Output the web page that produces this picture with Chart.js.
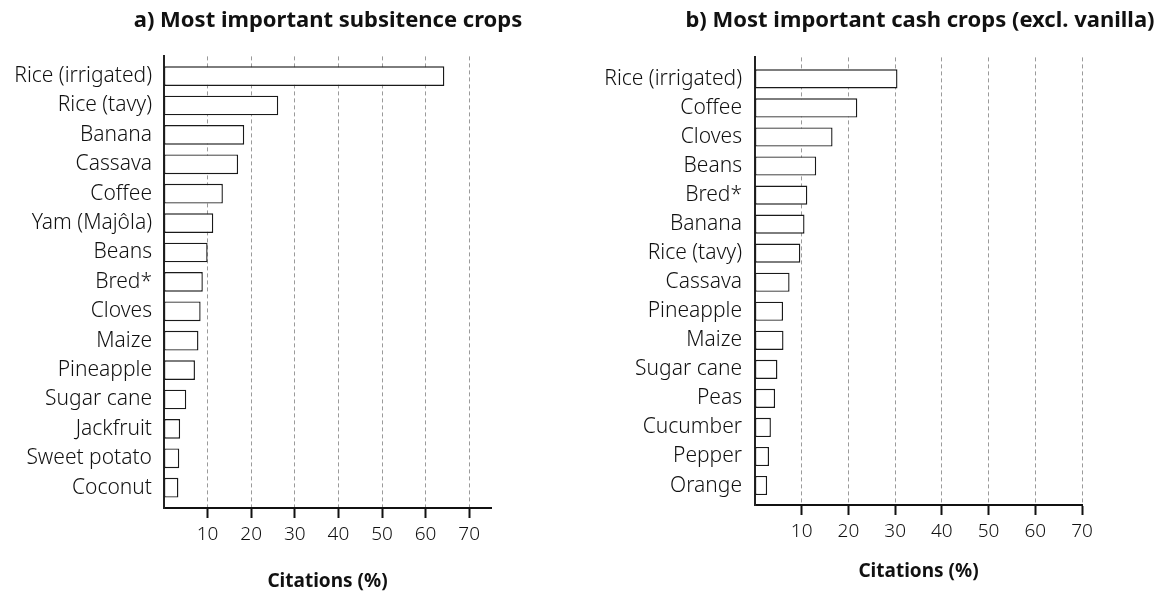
<!DOCTYPE html>
<html>
<head>
<meta charset="utf-8">
<script src="https://cdn.jsdelivr.net/npm/chart.js@4.4.1/dist/chart.umd.min.js"></script>
<style>
    html, body { margin: 0; padding: 0; background: #fff; overflow: hidden; }
    #wrap { position: relative; width: 1163px; height: 592px; }
    canvas { position: absolute; top: 0; }
    #subsistence-chart { left: 0; }
    #cash-chart { left: 584px; }
</style>
</head>
<body>
<div id="wrap">
    <canvas id="subsistence-chart" width="656" height="592"></canvas>
    <canvas id="cash-chart" width="672" height="592"></canvas>
</div>
<script>
const subsistenceCrops = ["Rice (irrigated)", "Rice (tavy)", "Banana", "Cassava", "Coffee", "Yam (Majôla)", "Beans", "Bred*", "Cloves", "Maize", "Pineapple", "Sugar cane", "Jackfruit", "Sweet potato", "Coconut"]
const subsistenceValues = [64.3, 26.2, 18.4, 17.0, 13.5, 11.3, 10.0, 8.9, 8.4, 7.9, 7.1, 5.1, 3.7, 3.5, 3.3]

const cashCrops = ["Rice (irrigated)", "Coffee", "Cloves", "Beans", "Bred*", "Banana", "Rice (tavy)", "Cassava", "Pineapple", "Maize", "Sugar cane", "Peas", "Cucumber", "Pepper", "Orange"]
const cashValues = [30.5, 21.9, 16.6, 13.1, 11.2, 10.6, 9.7, 7.4, 6.0, 6.1, 4.8, 4.3, 3.4, 3.0, 2.6]

const citationTicks = [10, 20, 30, 40, 50, 60, 70]

const FONT = "'Noto Sans', 'Open Sans', sans-serif"

function buildCropChart(canvasId, crops, values, opts) {
    const canvas = document.getElementById(canvasId)

    // index axis is linear so the band edges can sit a little inside the axis lines
    const data = values.map((v, i) => ({ x: v, y: i }))

    return new Chart(canvas.getContext("2d"), {
        type: "bar",
        data: {
            datasets: [{
                data,
                backgroundColor: "#ffffff",
                borderColor: "#1a1a1a",
                borderWidth: 1.4,
                borderSkipped: false,
                categoryPercentage: 1,
                barPercentage: opts.barPct
            }]
        },
        options: {
            indexAxis: "y",
            responsive: false,
            animation: false,
            layout: { padding: 0 },
            plugins: {
                legend: { display: false },
                tooltip: { enabled: false },
                title: {
                    display: true,
                    text: opts.title,
                    color: "#111111",
                    font: { family: FONT, size: 22, weight: "bold" },
                    padding: { top: opts.titleTop, bottom: opts.titleBottom }
                }
            },
            scales: {
                x: {
                    type: "linear",
                    min: 0,
                    max: opts.xMax,
                    afterBuildTicks: (scale) => {
                        scale.ticks = citationTicks.map(v => ({ value: v }))
                    },
                    afterFit: (scale) => { scale.height = opts.xAxisHeight },
                    ticks: {
                        color: "#111111",
                        padding: 5,
                        font: { family: FONT, size: 19, weight: "300" },
                        maxRotation: 0
                    },
                    grid: {
                        color: "#9a9a9a",
                        lineWidth: 1,
                        tickLength: 10,
                        tickColor: "#111111",
                        tickWidth: 2,
                        tickBorderDash: []
                    },
                    border: { display: true, color: "#111111", width: 2, dash: [4, 3] },
                    title: {
                        display: true,
                        text: "Citations (%)",
                        color: "#111111",
                        font: { family: FONT, size: 19, weight: "bold", lineHeight: 1 },
                        padding: { top: 0, bottom: opts.xTitleBottom }
                    }
                },
                y: {
                    type: "linear",
                    reverse: true,
                    offset: false,
                    min: opts.yMin,
                    max: opts.yMax,
                    afterBuildTicks: (scale) => {
                        scale.ticks = crops.map((c, i) => ({ value: i }))
                    },
                    afterFit: (scale) => { scale.width = opts.axisWidth },
                    ticks: {
                        autoSkip: false,
                        color: "#111111",
                        padding: opts.labelPad,
                        font: { family: FONT, size: 21, weight: "300" },
                        callback: (value) => crops[value]
                    },
                    grid: { display: false, drawTicks: false },
                    border: { display: true, color: "#222222", width: 2 }
                },
                // empty box on the right keeps the plot narrow while the title stays centred on the canvas
                spacer: {
                    type: "linear",
                    axis: "y",
                    position: "right",
                    afterFit: (scale) => { scale.width = opts.padRight },
                    ticks: { display: false },
                    grid: { display: false, drawTicks: false },
                    border: { display: false }
                }
            }
        }
    })
}

buildCropChart("subsistence-chart", subsistenceCrops, subsistenceValues, {
    title: "a) Most important subsitence crops",
    xMax: 75,
    yMin: -0.67,
    yMax: 14.69,
    barPct: 0.67,
    axisWidth: 164,
    padRight: 165,
    labelPad: 12,
    titleTop: 8,
    titleBottom: 22,
    xAxisHeight: 84,
    xTitleBottom: 1
})

buildCropChart("cash-chart", cashCrops, cashValues, {
    title: "b) Most important cash crops (excl. vanilla)",
    xMax: 70,
    yMin: -0.74,
    yMax: 14.67,
    barPct: 0.66,
    axisWidth: 171,
    padRight: 174,
    labelPad: 13,
    titleTop: 8,
    titleBottom: 23,
    xAxisHeight: 87,
    xTitleBottom: 11
})
</script>
</body>
</html>
